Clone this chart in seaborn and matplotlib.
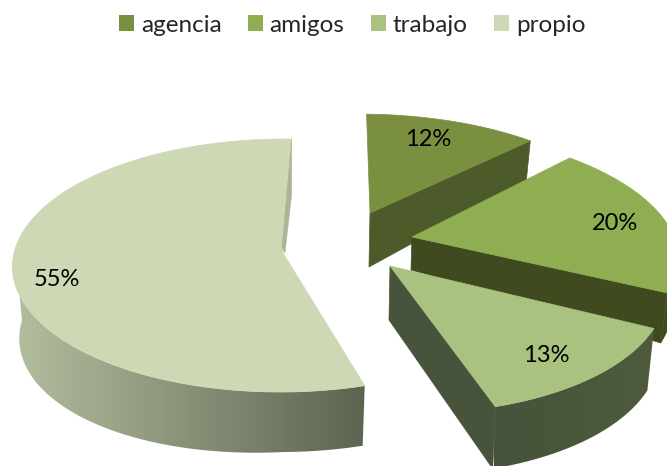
import numpy as np
import matplotlib
matplotlib.use("Agg")
import matplotlib.pyplot as plt
from matplotlib.colors import LinearSegmentedColormap
from matplotlib.patches import Patch, Polygon
import seaborn as sns

categories = ["agencia", "amigos", "trabajo", "propio"]
shares = [12, 20, 13, 55]
top_colors = ["#7a9040", "#8fae52", "#a9c27f", "#cdd8b4"]

sns.set_theme(style="white")
plt.rcParams["font.family"] = ["Lato", "DejaVu Sans"]

ROT = 1.5
K = 0.0988
RX, RY = 273.0, 125.3

layout = {
    "agencia": dict(apex=(370, 213), sx=.932, sy=.867, shear=.096, d0=54, d1=40,
                    wall="#4d5b2a", rim=("#4d5b2a", "#4d5b2a"), label=(428, 139)),
    "amigos": dict(apex=(412, 237), sx=.96, sy=.95, shear=.184, d0=33, d1=50,
                   wall="#3f4a1f", rim=("#3f4a1f", "#3f4a1f"), label=(615, 223)),
    "trabajo": dict(apex=(390, 266), sx=1.0, sy=1.06, shear=.14, d0=54, d1=62,
                    wall="#47533a", rim=("#46523a", "#4f5b3c"), label=(546, 355)),
    "propio": dict(apex=(283, 253), sx=.985, sy=1.0, shear=-.02, d0=60, d1=60,
                   wall=None, rim=("#b3bf9f", "#5c6350"), label=(57, 279)),
}


def project(theta, r, c):
    u, v = np.sin(theta) * r, np.cos(theta) * r
    s = 1 / (1 + K * v)
    dx = u * RX * s * c["sx"]
    dy = -v * RY * s * c["sy"]
    return c["apex"][0] + dx + c["shear"] * dy, c["apex"][1] + dy


fig = plt.figure(figsize=(6.67, 4.66), dpi=100)
ax = fig.add_axes([0, 0, 1, 1])

edges = np.cumsum([0] + shares) / sum(shares) * 2 * np.pi + np.deg2rad(ROT)
spans = {n: (edges[i], edges[i + 1]) for i, n in enumerate(categories)}

for z, name in enumerate(["propio", "agencia", "amigos", "trabajo"]):
    c = layout[name]
    ax_x, ax_y = c["apex"]
    color = top_colors[categories.index(name)]
    t = np.linspace(*spans[name], 200)
    x, y = project(t, 1.0, c)
    xb = x - 0.025 * (x - ax_x)
    # the wall looks a little taller towards the far left of the disc
    yb = y + c["d1"] + 12 * np.clip((ax_x - x) / RX, 0, 1)

    # outer wall, front-facing part only: a horizontal gradient clipped to its outline
    front = np.cos(t) < 0.05
    if front.sum() > 1:
        cmap = LinearSegmentedColormap.from_list("wall", list(c["rim"]))
        im = ax.imshow(np.linspace(0, 1, 256)[None, :], cmap=cmap, aspect="auto",
                       extent=(x.min() - 1, x.max() + 1, 470, 0), zorder=z * 4 + 1)
        wall_poly = Polygon(np.c_[np.r_[x[front], xb[front][::-1]],
                                  np.r_[y[front], yb[front][::-1]]],
                            closed=True, transform=ax.transData, fc="none", ec="none")
        ax.add_patch(wall_poly)
        im.set_clip_path(wall_poly)

    # radial wall
    ex, ey = x[-1], y[-1]
    if c["wall"]:
        ax.fill([ax_x, ex, xb[-1], ax_x - 1], [ax_y, ey, yb[-1], ax_y + c["d0"]],
                color=c["wall"], lw=.5, zorder=z * 4 + 2)
    # top face
    ax.fill(np.r_[ax_x, x], np.r_[ax_y, y], color=color, lw=.5, zorder=z * 4 + 3)
    if not c["wall"]:
        ax.fill([ex, ex, ax_x + 2, ax_x - 1], [ey, ey + 55, ax_y, ax_y - 6],
                color="#a9b596", lw=.3, zorder=z * 4 + 4)
    ax.text(*c["label"], f"{shares[categories.index(name)]}%", fontsize=17,
            ha="center", va="center", color="black", zorder=30)

ax.set_xlim(0, 667)
ax.set_ylim(466, 0)
ax.axis("off")

handles = [Patch(facecolor=col, edgecolor="none", label=n) for n, col in zip(categories, top_colors)]
ax.legend(handles=handles, loc="center", bbox_to_anchor=(352 / 667, 1 - 25 / 466), ncol=4,
          frameon=False, fontsize=17.5, handlelength=.62, handleheight=.66,
          handletextpad=.29, columnspacing=1.07, borderpad=0)
sns.despine(ax=ax, left=True, bottom=True)
fig.savefig("out.png", dpi=100)
